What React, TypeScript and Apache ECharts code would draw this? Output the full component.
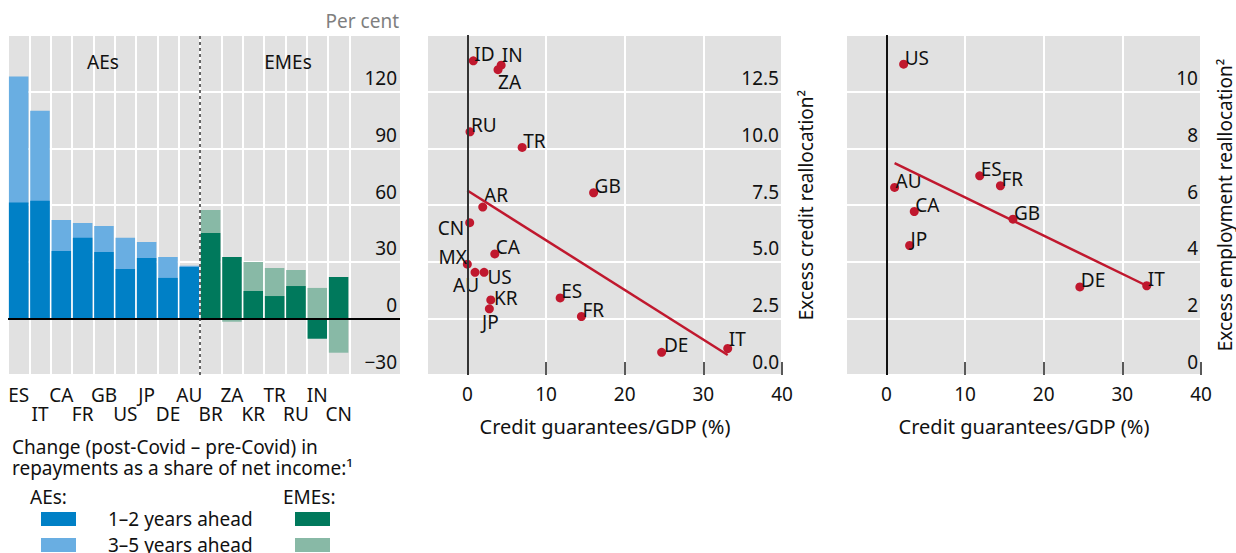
import React, { useEffect, useRef } from 'react';
import * as echarts from 'echarts';

// ---- Left panel: change in repayments (per cent) ----
const barCategories = ['ES', 'IT', 'CA', 'FR', 'GB', 'US', 'JP', 'DE', 'AU', 'BR', 'ZA', 'KR', 'TR', 'RU', 'IN', 'CN'];
const aeCount = 9;
const near = [61.3, 62.2, 35.7, 42.7, 35.1, 26.1, 32.0, 21.4, 27.2, 45.2, 32.5, 14.5, 11.8, 17.1, -10.8, 21.9];
const far = [128, 109.9, 52.1, 50.5, 48.9, 42.6, 40.4, 32.5, 27.9, 57.4, -1.8, 29.8, 26.6, 25.6, 16.1, -18.2];

// ---- Middle panel: excess credit reallocation ----
const creditCountries = ['ID', 'IN', 'ZA', 'RU', 'TR', 'GB', 'AR', 'CN', 'CA', 'MX', 'AU', 'US', 'KR', 'JP', 'ES', 'FR', 'DE', 'IT'];
const creditGuarantees = [0.76, 4.3, 3.9, 0.34, 6.97, 16.05, 1.96, 0.3, 3.49, 0, 0.98, 2.13, 2.98, 2.8, 11.8, 14.5, 24.7, 33.1];
const creditRealloc = [13.86, 13.67, 13.47, 10.73, 10.04, 8.04, 7.41, 6.72, 5.34, 4.89, 4.53, 4.53, 3.31, 2.92, 3.4, 2.58, 1.0, 1.17];
const creditFitX = [0, 33.1];
const creditFitY = [8.14, 0.88];

// ---- Right panel: excess employment reallocation ----
const empCountries = ['US', 'AU', 'ES', 'FR', 'CA', 'GB', 'JP', 'DE', 'IT'];
const empGuarantees = [2.2, 1.05, 11.87, 14.5, 3.55, 16.1, 2.96, 24.6, 33.1];
const empRealloc = [10.97, 6.62, 7.03, 6.68, 5.77, 5.5, 4.57, 3.11, 3.15];
const empFitX = [1.05, 33.1];
const empFitY = [7.48, 3.15];

const guaranteeTicks = [0, 10, 20, 30, 40];

// label placement (style only)
const creditLabelPlace: Record<string, [string, number, number]> = {
  IN: ['right', -3.8, -10],
  ZA: ['right', -4.5, 12.7],
  AR: ['right', -3.2, -11.7],
  CN: ['left', -1, 5],
  MX: ['left', 4, -6.7],
  AU: ['left', 8.5, 12.3],
  US: ['right', -1.2, 4.7],
  KR: ['right', -1.2, -2.4],
  JP: ['inside', 1, 13.3],
  DE: ['right', -2.2, -7.3],
  IT: ['right', -3.5, -9],
};
const defaultPlace: [string, number, number] = ['right', -3.5, -6.5];

const FONT = 'Noto Sans';
const INK = '#111111';
const BG = '#e1e1e1';
const RED = '#c0182e';
const DARK_BLUE = '#0080c6';
const LIGHT_BLUE = '#69aee2';
const DARK_GREEN = '#00795c';
const LIGHT_GREEN = '#88b9a6';
const FS = 19;
const COLW = 21.33;

function scatterData(names: string[], xs: number[], ys: number[], places: Record<string, [string, number, number]>) {
  return names.map((n, i) => {
    const p = places[n] || defaultPlace;
    return {
      name: n,
      value: [xs[i], ys[i]],
      label: { position: p[0], offset: [p[1], p[2]] },
    };
  });
}

function guaranteeAxis(gridIndex: number) {
  return {
    gridIndex,
    type: 'value',
    min: -5,
    max: 40,
    axisLine: { show: false },
    axisTick: {
      show: true,
      inside: true,
      length: 13,
      customValues: guaranteeTicks,
      lineStyle: { color: '#222', width: 1.5 },
    },
    axisLabel: { customValues: guaranteeTicks, fontSize: FS, fontFamily: FONT, color: INK, margin: 9 },
    splitLine: { show: true, lineStyle: { color: '#fff', width: 2 } },
    name: 'Credit guarantees/GDP (%)',
    nameLocation: 'middle',
    nameGap: 41,
    nameTextStyle: { fontSize: 20, fontFamily: FONT, color: INK },
  };
}

function rightValueAxis(gridIndex: number, min: number, max: number, interval: number, fmt: (v: number) => string, name?: string) {
  return {
    gridIndex,
    type: 'value',
    position: 'right',
    min,
    max,
    interval,
    axisLine: { show: false },
    axisTick: { show: false },
    axisLabel: {
      inside: true,
      verticalAlign: 'bottom',
      margin: 3,
      padding: [0, 0, 4, 0],
      fontSize: FS,
      fontFamily: FONT,
      color: INK,
      formatter: fmt,
    },
    splitLine: { show: true, lineStyle: { color: '#fff', width: 2 } },
    name: name || '',
    nameLocation: 'middle',
    nameRotate: 90,
    nameGap: 14,
    nameTextStyle: { fontSize: FS, fontFamily: FONT, color: INK },
  };
}

export default function App() {
  const ref = useRef<HTMLDivElement>(null);
  useEffect(() => {
    if (!ref.current) return;
    const chart = echarts.init(ref.current, null, { renderer: 'svg' });
    const txt = (text: string, x: number, y: number, extra: any = {}) => ({
      type: 'text',
      x,
      y,
      z: 100,
      style: { text, fontSize: FS, fontFamily: FONT, fill: INK, verticalAlign: 'middle', ...extra },
    });
    const rect = (x: number, y: number, color: string) => ({
      type: 'rect',
      z: 100,
      shape: { x, y, width: 35, height: 14 },
      style: { fill: color },
    });
    const option: any = {
      animation: false,
      textStyle: { fontFamily: FONT },
      grid: [
        { left: 8, top: 35, width: 392, height: 340, show: true, backgroundColor: BG, borderWidth: 0 },
        { left: 8, top: 35, width: COLW * 16, height: 340 },
        { left: 428, top: 35, width: 354, height: 340, show: true, backgroundColor: BG, borderWidth: 0 },
        { left: 847, top: 35, width: 354, height: 340, show: true, backgroundColor: BG, borderWidth: 0 },
      ],
      xAxis: [
        { gridIndex: 0, type: 'value', min: 0, max: 392 / COLW, show: false },
        {
          gridIndex: 1,
          type: 'category',
          data: barCategories,
          axisLine: { show: false, onZero: false },
          axisTick: { show: false },
          splitLine: { show: true, interval: 0, lineStyle: { color: '#fff', width: 2 } },
          axisLabel: {
            interval: 0,
            fontSize: FS,
            fontFamily: FONT,
            color: INK,
            lineHeight: 19,
            margin: 10,
            formatter: (v: string, i: number) => (i % 2 === 1 ? '\n' + v : v),
          },
        },
        guaranteeAxis(2),
        guaranteeAxis(3),
      ],
      yAxis: [
        rightValueAxis(0, -30, 150, 30, (v: number) => (v === 150 ? '' : v < 0 ? '\u2212' + Math.abs(v) : String(v))),
        { gridIndex: 1, type: 'value', min: -30, max: 150, interval: 30, show: false },
        rightValueAxis(2, 0, 15, 2.5, (v: number) => (v === 15 ? '' : v.toFixed(1)), 'Excess credit reallocation\u00b2'),
        rightValueAxis(3, 0, 12, 2, (v: number) => (v === 12 ? '' : String(v)), 'Excess employment reallocation\u00b2'),
      ],
      series: [
        {
          type: 'bar',
          name: '3\u20135 years ahead',
          xAxisIndex: 1,
          yAxisIndex: 1,
          barWidth: 19.5,
          barGap: '-100%',
          data: far.map((v, i) => ({ value: v, itemStyle: { color: i < aeCount ? LIGHT_BLUE : LIGHT_GREEN } })),
        },
        {
          type: 'bar',
          name: '1\u20132 years ahead',
          xAxisIndex: 1,
          yAxisIndex: 1,
          barWidth: 19.5,
          barGap: '-100%',
          data: near.map((v, i) => ({ value: v, itemStyle: { color: i < aeCount ? DARK_BLUE : DARK_GREEN } })),
        },
        {
          type: 'line',
          xAxisIndex: 0,
          yAxisIndex: 0,
          data: [],
          z: 5,
          markLine: {
            silent: true,
            symbol: ['none', 'none'],
            label: { show: false },
            data: [
              { yAxis: 0, lineStyle: { color: '#000', width: 2, type: 'solid' } },
              { xAxis: aeCount, lineStyle: { color: '#333', width: 1.5, type: [3, 3] } },
            ],
          },
        },
        // middle panel
        {
          type: 'line',
          xAxisIndex: 2,
          yAxisIndex: 2,
          data: creditFitX.map((x, i) => [x, creditFitY[i]]),
          symbol: 'none',
          lineStyle: { color: RED, width: 2.5 },
          markLine: {
            silent: true,
            symbol: ['none', 'none'],
            label: { show: false },
            data: [{ xAxis: 0 }],
            lineStyle: { color: '#333', width: 2, type: 'solid' },
          },
        },
        {
          type: 'scatter',
          xAxisIndex: 2,
          yAxisIndex: 2,
          symbolSize: 9,
          itemStyle: { color: RED, opacity: 1 },
          label: { show: true, formatter: '{b}', distance: 0, fontSize: FS, fontFamily: FONT, color: INK },
          data: scatterData(creditCountries, creditGuarantees, creditRealloc, creditLabelPlace),
        },
        // right panel
        {
          type: 'line',
          xAxisIndex: 3,
          yAxisIndex: 3,
          data: empFitX.map((x, i) => [x, empFitY[i]]),
          symbol: 'none',
          lineStyle: { color: RED, width: 2.5 },
          markLine: {
            silent: true,
            symbol: ['none', 'none'],
            label: { show: false },
            data: [{ xAxis: 0 }],
            lineStyle: { color: '#111', width: 2, type: 'solid' },
          },
        },
        {
          type: 'scatter',
          xAxisIndex: 3,
          yAxisIndex: 3,
          symbolSize: 9,
          itemStyle: { color: RED, opacity: 1 },
          label: { show: true, formatter: '{b}', distance: 0, fontSize: FS, fontFamily: FONT, color: INK },
          data: scatterData(empCountries, empGuarantees, empRealloc, {}),
        },
      ],
      graphic: [
        txt('Per cent', 399, 21, { align: 'right', fill: '#7f7f7f' }),
        txt('AEs', 103, 62, { align: 'center' }),
        txt('EMEs', 288, 62, { align: 'center' }),
        txt('Change (post-Covid \u2013 pre-Covid) in\nrepayments as a share of net income:\u00b9', 12, 457.5, { lineHeight: 21 }),
        txt('AEs:', 30, 497),
        txt('EMEs:', 283, 497),
        rect(41, 512, DARK_BLUE),
        rect(295, 512, DARK_GREEN),
        txt('1\u20132 years ahead', 108, 519),
        rect(41, 538, LIGHT_BLUE),
        rect(295, 538, LIGHT_GREEN),
        txt('3\u20135 years ahead', 108, 545),
      ],
    };
    chart.setOption(option);
    return () => chart.dispose();
  }, []);
  return <div ref={ref} style={{ position: 'absolute', left: 0, top: 0, width: 1236, height: 553 }} />;
}
